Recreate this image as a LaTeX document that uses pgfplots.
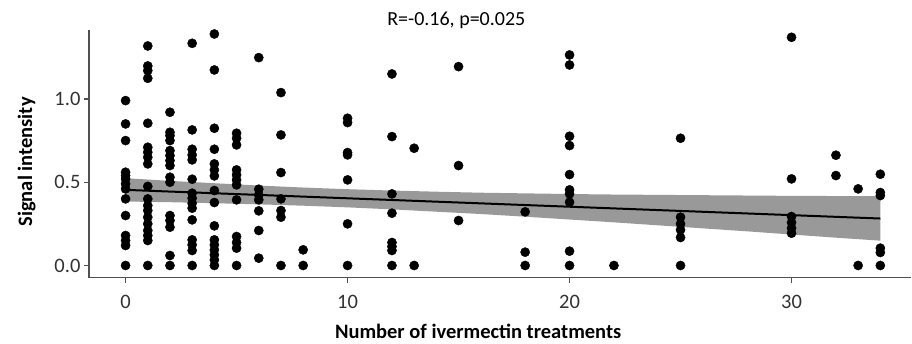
\documentclass[border=0pt]{standalone}
\usepackage{pgfplots}
\pgfplotsset{compat=1.18}
\usepackage{fontspec}
\setmainfont{Carlito}
\definecolor{bandgray}{RGB}{153,153,153}
\definecolor{axgray}{RGB}{80,80,80}
\definecolor{ticktext}{RGB}{50,50,50}
\begin{document}
\begin{tikzpicture}
\begin{axis}[
  name=ax,
  scale only axis,
  width=823pt, height=248pt,
  xmin=-1.65, xmax=35.4,
  ymin=-0.074, ymax=1.414,
  axis x line=bottom, axis y line=left,
  axis line style={-, draw=axgray, line width=1.2pt},
  xtick={0,10,20,30},
  ytick={0,0.5,1},
  yticklabel style={/pgf/number format/.cd, fixed, fixed zerofill, precision=1},
  xticklabel style={yshift=-9pt},
  /pgf/number format/assume math mode=true,
  tick align=outside,
  major tick length=5pt,
  tick style={draw=axgray, line width=1.2pt},
  ticklabel style={font=\fontsize{20.5}{22}\selectfont, text=ticktext},
  xlabel={Number of ivermectin treatments},
  ylabel={Signal intensity},
  label style={font=\bfseries\fontsize{20.5}{22}\selectfont},
  xlabel style={yshift=-8pt, xshift=-22pt},
  ylabel style={yshift=12pt, xshift=-8pt},
  clip=false,
]
% confidence band
\addplot[draw=none, fill=bandgray] coordinates {
(0,0.524) (2,0.508) (4,0.494) (6,0.480) (8,0.468) (10,0.458) (12,0.450) (14,0.443) (16,0.437) (18,0.433) (20,0.429) (22,0.426) (24,0.424) (26,0.422) (28,0.420) (30,0.418) (32,0.417) (34,0.416)
(34,0.149) (32,0.167) (30,0.186) (28,0.205) (26,0.223) (24,0.241) (22,0.259) (20,0.276) (18,0.293) (16,0.309) (14,0.323) (12,0.337) (10,0.349) (8,0.359) (6,0.367) (4,0.374) (2,0.380) (0,0.384)
} -- cycle;
% regression line
\addplot[black, line width=2pt] coordinates {(0,0.454) (34,0.282)};
% points
\addplot[only marks, mark=*, mark size=4.6pt, mark options={fill=black, draw=black}] coordinates {
(0,0.99) (0,0.85) (0,0.75) (0,0.56) (0,0.54) (0,0.52) (0,0.49) (0,0.46) (0,0.40) (0,0.30) (0,0.18) (0,0.15) (0,0.12) (0,0)
(1,1.318) (1,1.198) (1,1.17) (1,1.124) (1,0.854) (1,0.71) (1,0.68) (1,0.65) (1,0.61) (1,0.475) (1,0.40) (1,0.36) (1,0.33) (1,0.29) (1,0.25) (1,0.21) (1,0.18) (1,0.15) (1,0)
(2,0.92) (2,0.80) (2,0.78) (2,0.75) (2,0.69) (2,0.66) (2,0.63) (2,0.60) (2,0.53) (2,0.50) (2,0.30) (2,0.27) (2,0.23) (2,0.06) (2,0)
(3,1.334) (3,0.814) (3,0.698) (3,0.664) (3,0.634) (3,0.518) (3,0.434) (3,0.404) (3,0.374) (3,0.344) (3,0.274) (3,0.154) (3,0.124) (3,0.09) (3,0)
(4,1.39) (4,1.174) (4,0.824) (4,0.698) (4,0.61) (4,0.574) (4,0.538) (4,0.45) (4,0.378) (4,0.238) (4,0.154) (4,0.124) (4,0.094) (4,0.064) (4,0.034) (4,0)
(5,0.794) (5,0.764) (5,0.724) (5,0.574) (5,0.544) (5,0.514) (5,0.484) (5,0.394) (5,0.174) (5,0.138) (5,0.104) (5,0)
(6,1.248) (6,0.458) (6,0.424) (6,0.394) (6,0.328) (6,0.21) (6,0.044)
(7,1.038) (7,0.784) (7,0.558) (7,0.40) (7,0.33) (7,0.29) (7,0)
(8,0.094) (8,0)
(10,0.884) (10,0.858) (10,0.678) (10,0.664) (10,0.514) (10,0.25) (10,0)
(12,1.15) (12,0.774) (12,0.43) (12,0.314) (12,0.138) (12,0.114) (12,0.09) (12,0)
(13,0.704) (13,0)
(15,1.194) (15,0.60) (15,0.27)
(18,0.322) (18,0.08) (18,0)
(20,1.264) (20,1.204) (20,0.776) (20,0.72) (20,0.546) (20,0.454) (20,0.43) (20,0.38) (20,0.086) (20,0)
(22,0)
(25,0.764) (25,0.29) (25,0.25) (25,0.214) (25,0.168) (25,0)
(30,1.37) (30,0.52) (30,0.294) (30,0.258) (30,0.224) (30,0.194)
(32,0.662) (32,0.54)
(33,0.46) (33,0)
(34,0.548) (34,0.438) (34,0.42) (34,0.104) (34,0.078) (34,0)
};
\node[font=\fontsize{20}{22}\selectfont, anchor=center] at (axis cs:14.9,1.474) {R=-0.16, p=0.025};
\end{axis}
\path ([shift={(-89pt,-66pt)}]ax.south west) rectangle ([shift={(0pt,30pt)}]ax.north east);
\end{tikzpicture}
\end{document}
